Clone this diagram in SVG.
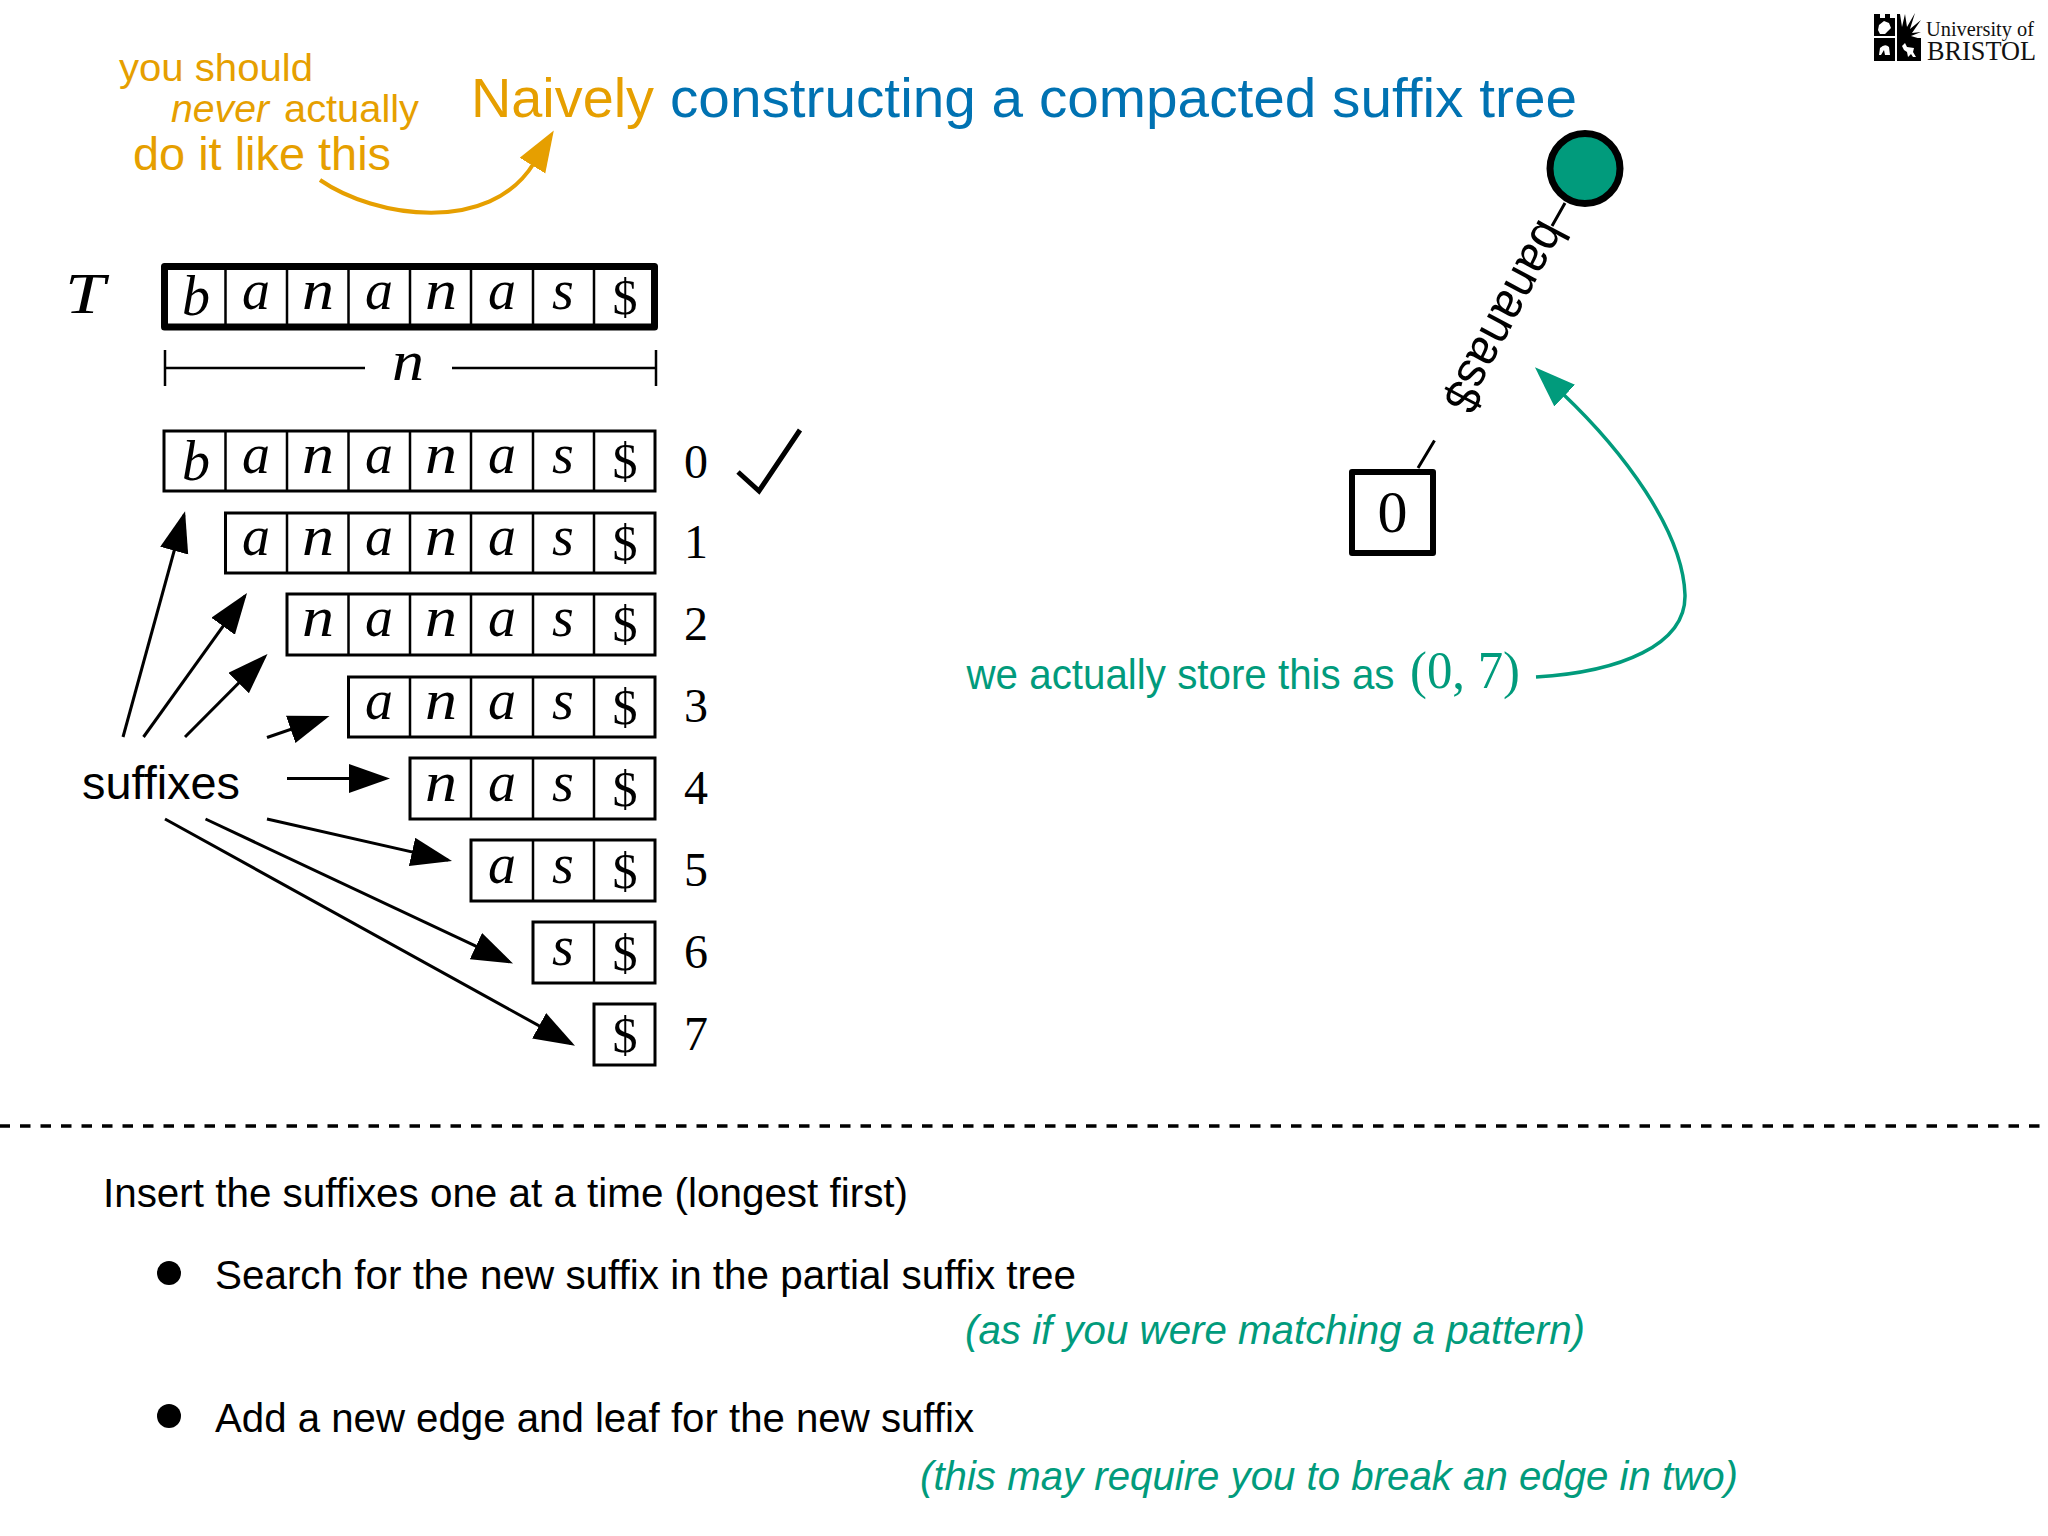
<svg xmlns="http://www.w3.org/2000/svg" width="2048" height="1536" viewBox="0 0 2048 1536">
<style>
.s{font-family:"Liberation Sans",Arial,sans-serif}
.m{font-family:"Liberation Serif","Times New Roman",serif;font-style:italic;font-size:56px;text-anchor:middle;fill:#000}
.d{font-family:"Liberation Serif","Times New Roman",serif;font-size:48px;text-anchor:middle;fill:#000}
.do{font-family:"Liberation Serif","Times New Roman",serif;font-size:50px;text-anchor:middle;fill:#000}
.box{fill:#fff;stroke:#000;stroke-width:3}
.div{stroke:#000;stroke-width:2.5}
.or{fill:#E69F00}.bl{fill:#0072B2}.gr{fill:#019B7C}.bk{fill:#000}
.arr{stroke:#000;stroke-width:3;fill:none;marker-end:url(#ah)}
</style>
<defs>
<marker id="ah" markerUnits="userSpaceOnUse" markerWidth="44" markerHeight="30" refX="37" refY="14.500" orient="auto"><path d="M0 0L41 14.500L0 29z" fill="#000"/></marker>
<marker id="aho" markerUnits="userSpaceOnUse" markerWidth="48" markerHeight="32" refX="3" refY="15" orient="auto"><path d="M0 0L41 15L0 30z" fill="#E69F00"/></marker>
<marker id="ahg" markerUnits="userSpaceOnUse" markerWidth="48" markerHeight="32" refX="3" refY="15" orient="auto"><path d="M0 0L41 15L0 30z" fill="#019B7C"/></marker>
</defs>
<rect width="2048" height="1536" fill="#fff"/>

<g id="title">
<text class="s or" x="471" y="117" font-size="56" textLength="183" lengthAdjust="spacingAndGlyphs">Naively</text>
<text class="s bl" x="670" y="117" font-size="56" textLength="907" lengthAdjust="spacingAndGlyphs">constructing a compacted suffix tree</text>
</g>

<g id="logo">
<path class="bk" d="M1874 14h6v4h5v-4h5v4h5v18h-21zM1874 38h21v23h-21zM1897 38h24v23h-24zM1897 14h3l2 13 3-13 2 13 8-14-5 16 11-9-9 13 9-1-10 4 10 3h-24z"/>
<path fill="#fff" d="M1879 25l5-4 5 2 2 5-3 3-3 3h-5l-2-4zM1880 48q5-5 9-1l1 8h-5l-1-5-3 5h-2zM1902 46l3-3 2 4 7 1-1 4 3 5h-3l-2-3-3 3-1-5-3-2z"/>
<text x="1926" y="36" font-family="Liberation Serif,serif" font-size="20.500" textLength="108" lengthAdjust="spacingAndGlyphs" fill="#111">University of</text>
<text x="1927" y="60" font-family="Liberation Serif,serif" font-size="27" textLength="109" lengthAdjust="spacingAndGlyphs" fill="#111">BRISTOL</text>
</g>

<g id="note-never">
<text class="s or" x="119" y="81" font-size="38" textLength="194" lengthAdjust="spacingAndGlyphs">you should</text>
<text class="s or" x="171" y="122" font-size="38" font-style="italic" textLength="98" lengthAdjust="spacingAndGlyphs">never</text>
<text class="s or" x="284" y="122" font-size="38" textLength="135" lengthAdjust="spacingAndGlyphs">actually</text>
<text class="s or" x="133" y="170" font-size="47" textLength="258" lengthAdjust="spacingAndGlyphs">do it like this</text>
</g>

<g id="text-T">
<text class="m" style="text-anchor:start" x="65" y="313" font-size="60" textLength="40" lengthAdjust="spacingAndGlyphs">T</text>
<rect x="164.500" y="266.500" width="490" height="60.500" fill="#fff" stroke="#000" stroke-width="7" stroke-linejoin="round"/>
<path class="div" d="M225.500 266V327M287 266V327M348.500 266V327M410 266V327M471 266V327M533 266V327M594 266V327"/>
<text class="m" x="196" y="315">b</text><text class="m" x="256" y="309">a</text><text class="m" x="318" y="309" textLength="32" lengthAdjust="spacingAndGlyphs">n</text><text class="m" x="379" y="309">a</text><text class="m" x="441" y="309" textLength="32" lengthAdjust="spacingAndGlyphs">n</text><text class="m" x="502" y="309">a</text><text class="m" x="563" y="309">s</text><text class="do" x="625" y="313.500">$</text>
</g>

<g id="length-n">
<path d="M165 350V386M656 350V386M165 368H365M452 368H656" stroke="#000" stroke-width="2.500" fill="none"/>
<text class="m" x="408" y="380" textLength="32" lengthAdjust="spacingAndGlyphs">n</text>
</g>

<g id="suffix-0">
<rect class="box" x="164" y="431" width="491" height="60"/>
<path class="div" d="M225.500 431V491M287 431V491M348.500 431V491M410 431V491M471 431V491M533 431V491M594 431V491"/>
<text class="m" x="196" y="480">b</text><text class="m" x="256" y="473">a</text><text class="m" x="318" y="473" textLength="32" lengthAdjust="spacingAndGlyphs">n</text><text class="m" x="379" y="473">a</text><text class="m" x="441" y="473" textLength="32" lengthAdjust="spacingAndGlyphs">n</text><text class="m" x="502" y="473">a</text><text class="m" x="563" y="473">s</text><text class="do" x="625" y="477.500">$</text>
<text class="d" x="696" y="478">0</text>
<path d="M738 472L759 491L800 430" fill="none" stroke="#000" stroke-width="5"/>
</g>
<g id="suffix-1">
<rect class="box" x="225.500" y="513" width="429.500" height="60"/>
<path class="div" d="M287 513V573M348.500 513V573M410 513V573M471 513V573M533 513V573M594 513V573"/>
<text class="m" x="256" y="555">a</text><text class="m" x="318" y="555" textLength="32" lengthAdjust="spacingAndGlyphs">n</text><text class="m" x="379" y="555">a</text><text class="m" x="441" y="555" textLength="32" lengthAdjust="spacingAndGlyphs">n</text><text class="m" x="502" y="555">a</text><text class="m" x="563" y="555">s</text><text class="do" x="625" y="559.500">$</text>
<text class="d" x="696" y="558">1</text>
</g>
<g id="suffix-2">
<rect class="box" x="287" y="594" width="368" height="61"/>
<path class="div" d="M348.500 594V655M410 594V655M471 594V655M533 594V655M594 594V655"/>
<text class="m" x="318" y="636" textLength="32" lengthAdjust="spacingAndGlyphs">n</text><text class="m" x="379" y="636">a</text><text class="m" x="441" y="636" textLength="32" lengthAdjust="spacingAndGlyphs">n</text><text class="m" x="502" y="636">a</text><text class="m" x="563" y="636">s</text><text class="do" x="625" y="640.500">$</text>
<text class="d" x="696" y="640">2</text>
</g>
<g id="suffix-3">
<rect class="box" x="348.500" y="677" width="306.500" height="60"/>
<path class="div" d="M410 677V737M471 677V737M533 677V737M594 677V737"/>
<text class="m" x="379" y="719">a</text><text class="m" x="441" y="719" textLength="32" lengthAdjust="spacingAndGlyphs">n</text><text class="m" x="502" y="719">a</text><text class="m" x="563" y="719">s</text><text class="do" x="625" y="723.500">$</text>
<text class="d" x="696" y="722">3</text>
</g>
<g id="suffix-4">
<rect class="box" x="410" y="758" width="245" height="61"/>
<path class="div" d="M471 758V819M533 758V819M594 758V819"/>
<text class="m" x="441" y="801" textLength="32" lengthAdjust="spacingAndGlyphs">n</text><text class="m" x="502" y="801">a</text><text class="m" x="563" y="801">s</text><text class="do" x="625" y="805.500">$</text>
<text class="d" x="696" y="804">4</text>
</g>
<g id="suffix-5">
<rect class="box" x="471" y="840" width="184" height="61"/>
<path class="div" d="M533 840V901M594 840V901"/>
<text class="m" x="502" y="883">a</text><text class="m" x="563" y="883">s</text><text class="do" x="625" y="887.500">$</text>
<text class="d" x="696" y="886">5</text>
</g>
<g id="suffix-6">
<rect class="box" x="533" y="922" width="122" height="61"/>
<path class="div" d="M594 922V983"/>
<text class="m" x="563" y="965">s</text><text class="do" x="625" y="969.500">$</text>
<text class="d" x="696" y="968">6</text>
</g>
<g id="suffix-7">
<rect class="box" x="594" y="1004" width="61" height="61"/>
<text class="do" x="625" y="1051.500">$</text>
<text class="d" x="696" y="1050">7</text>
</g>

<g id="suffixes-label">
<text class="s bk" x="82" y="799" font-size="47" textLength="158" lengthAdjust="spacingAndGlyphs">suffixes</text>
</g>

<g id="connectors">
<path class="arr" d="M123 737L184 515"/>
<path class="arr" d="M143.500 737L244.700 596.200"/>
<path class="arr" d="M185 737L264.700 656.800"/>
<path class="arr" d="M267 737.500L325.700 717.300"/>
<path class="arr" d="M287 778.500L386 778.500"/>
<path class="arr" d="M267 819L448.100 860.100"/>
<path class="arr" d="M205.500 819L509.400 961.900"/>
<path class="arr" d="M165 819L571.500 1043.700"/>
<path d="M320 180C375 218 490 235 534 163" fill="none" stroke="#E69F00" stroke-width="4" marker-end="url(#aho)"/>
<path d="M1536 677C1620 672 1686 645 1685 595C1683 530 1622 450 1562.500 393.500" fill="none" stroke="#019B7C" stroke-width="3.500" marker-end="url(#ahg)"/>
<path d="M1565 203L1552 226M1434.500 440.600L1418 468" fill="none" stroke="#000" stroke-width="3"/>
</g>

<g id="root-node"><circle cx="1585" cy="168.500" r="35" fill="#019B7C" stroke="#000" stroke-width="7"/></g>
<g id="edge-label"><text class="s bk" transform="translate(1491 309) rotate(118)" font-size="50" text-anchor="middle" textLength="208" lengthAdjust="spacingAndGlyphs">bananas$</text></g>
<g id="leaf-0">
<rect x="1352" y="472" width="81" height="81" fill="#fff" stroke="#000" stroke-width="6" stroke-linejoin="round"/>
<text x="1392.500" y="532" font-family="Liberation Serif,serif" font-size="60" text-anchor="middle">0</text>
</g>

<g id="note-store">
<text class="s gr" x="966.500" y="689" font-size="42" textLength="428" lengthAdjust="spacingAndGlyphs">we actually store this as</text>
<text class="gr" x="1410" y="688" font-family="Liberation Serif,serif" font-size="53" textLength="110" lengthAdjust="spacingAndGlyphs">(0, 7)</text>
</g>

<path id="divider" d="M0 1126H2048" stroke="#000" stroke-width="3.500" stroke-dasharray="10.500 10" stroke-dashoffset="0.500"/>

<g id="body">
<text class="s bk" x="103" y="1207" font-size="41" textLength="805" lengthAdjust="spacingAndGlyphs">Insert the suffixes one at a time (longest first)</text>
<circle class="bk" cx="169" cy="1273" r="12"/>
<text class="s bk" x="215" y="1289" font-size="41" textLength="861" lengthAdjust="spacingAndGlyphs">Search for the new suffix in the partial suffix tree</text>
<text class="s gr" x="965" y="1344" font-size="41" font-style="italic" textLength="620" lengthAdjust="spacingAndGlyphs">(as if you were matching a pattern)</text>
<circle class="bk" cx="169" cy="1416" r="12"/>
<text class="s bk" x="215" y="1432" font-size="41" textLength="759" lengthAdjust="spacingAndGlyphs">Add a new edge and leaf for the new suffix</text>
<text class="s gr" x="920" y="1490" font-size="41" font-style="italic" textLength="818" lengthAdjust="spacingAndGlyphs">(this may require you to break an edge in two)</text>
</g>
</svg>
